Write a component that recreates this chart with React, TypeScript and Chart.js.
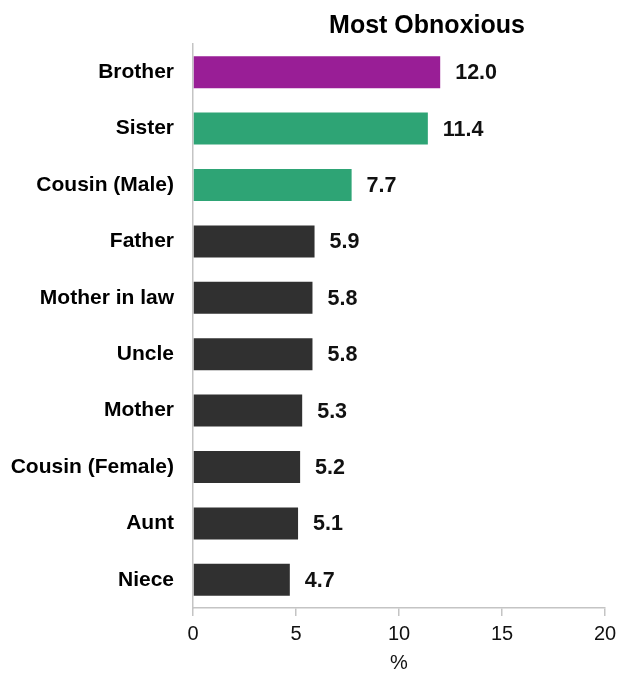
import React, { useEffect, useRef } from "react";
import { Chart, registerables } from "chart.js";

Chart.register(...registerables);

const categories = [
  "Brother",
  "Sister",
  "Cousin (Male)",
  "Father",
  "Mother in law",
  "Uncle",
  "Mother",
  "Cousin (Female)",
  "Aunt",
  "Niece",
];
const values = [12.0, 11.4, 7.7, 5.9, 5.8, 5.8, 5.3, 5.2, 5.1, 4.7];
const barColors = [
  "#991E96",
  "#2EA475",
  "#2EA475",
  "#303030",
  "#303030",
  "#303030",
  "#303030",
  "#303030",
  "#303030",
  "#303030",
];
const titleText = "Most Obnoxious";
const axisTitle = "%";

const FONT = "'Liberation Sans', Arial, Helvetica, sans-serif";

export default function App() {
  const ref = useRef<HTMLCanvasElement | null>(null);

  useEffect(() => {
    if (!ref.current) return;

    const titlePlugin = {
      id: "customTitle",
      afterDraw(chart: any) {
        const { ctx, chartArea } = chart;
        ctx.save();
        ctx.font = `bold 25px ${FONT}`;
        ctx.fillStyle = "#000";
        ctx.textAlign = "center";
        ctx.textBaseline = "middle";
        ctx.fillText(titleText, chartArea.left + chartArea.width * 0.568, 26);
        ctx.restore();
      },
    };

    const xTickPlugin = {
      id: "xTickLabels",
      afterDraw(chart: any) {
        const { ctx, chartArea } = chart;
        const xs = chart.scales.x;
        ctx.save();
        ctx.font = `20px ${FONT}`;
        ctx.fillStyle = "#111";
        ctx.textAlign = "center";
        ctx.textBaseline = "alphabetic";
        xs.ticks.forEach((t: any) => {
          ctx.fillText(String(t.value), xs.getPixelForValue(t.value), chartArea.bottom + 32);
        });
        ctx.restore();
      },
    };

    const labelPlugin = {
      id: "valueLabels",
      afterDatasetsDraw(chart: any) {
        const { ctx } = chart;
        const meta = chart.getDatasetMeta(0);
        ctx.save();
        ctx.font = `bold 21.5px ${FONT}`;
        ctx.fillStyle = "#111";
        ctx.textAlign = "left";
        ctx.textBaseline = "middle";
        meta.data.forEach((bar: any, i: number) => {
          ctx.fillText(values[i].toFixed(1), bar.x + 15, bar.y + 1);
        });
        ctx.restore();
      },
    };

    const chart = new Chart(ref.current, {
      type: "bar",
      data: {
        labels: categories,
        datasets: [
          {
            data: values,
            backgroundColor: barColors,
            borderWidth: 0,
            barPercentage: 0.567,
            categoryPercentage: 1,
          },
        ],
      },
      options: {
        indexAxis: "y",
        animation: false,
        responsive: false,
        maintainAspectRatio: false,
        layout: { padding: { top: 44, right: 14, left: 0, bottom: 0 } },
        plugins: {
          legend: { display: false },
          tooltip: { enabled: false },
          title: { display: false },
        },
        scales: {
          x: {
            min: 0,
            max: 20,
            ticks: {
              stepSize: 5,
              color: "rgba(0,0,0,0)",
              font: { family: FONT, size: 20 },
              padding: 6,
            },
            grid: {
              display: true,
              drawOnChartArea: false,
              drawTicks: true,
              tickLength: 8,
              color: "#c4c4c4",
              lineWidth: 1.5,
            },
            border: { display: true, color: "#c4c4c4", width: 1.5 },
            title: {
              display: true,
              text: axisTitle,
              color: "#111",
              font: { family: FONT, size: 20 },
              padding: { top: 0, bottom: 2 },
            },
            afterFit(scale: any) {
              scale.paddingRight = 14;
              scale.height = 69;
            },
          },
          y: {
            ticks: {
              color: "#000",
              font: { family: FONT, size: 21, weight: "bold" },
              padding: 19,
            },
            grid: { display: false, drawTicks: false },
            border: { display: true, color: "#c4c4c4", width: 1.5 },
            afterFit(scale: any) {
              scale.width = 193;
            },
          },
        },
      },
      plugins: [titlePlugin, labelPlugin, xTickPlugin],
    });

    return () => chart.destroy();
  }, []);

  return (
    <div style={{ position: "absolute", left: 0, top: 0, width: 619, height: 677 }}>
      <canvas ref={ref} width={619} height={677} style={{ display: "block" }} />
    </div>
  );
}
